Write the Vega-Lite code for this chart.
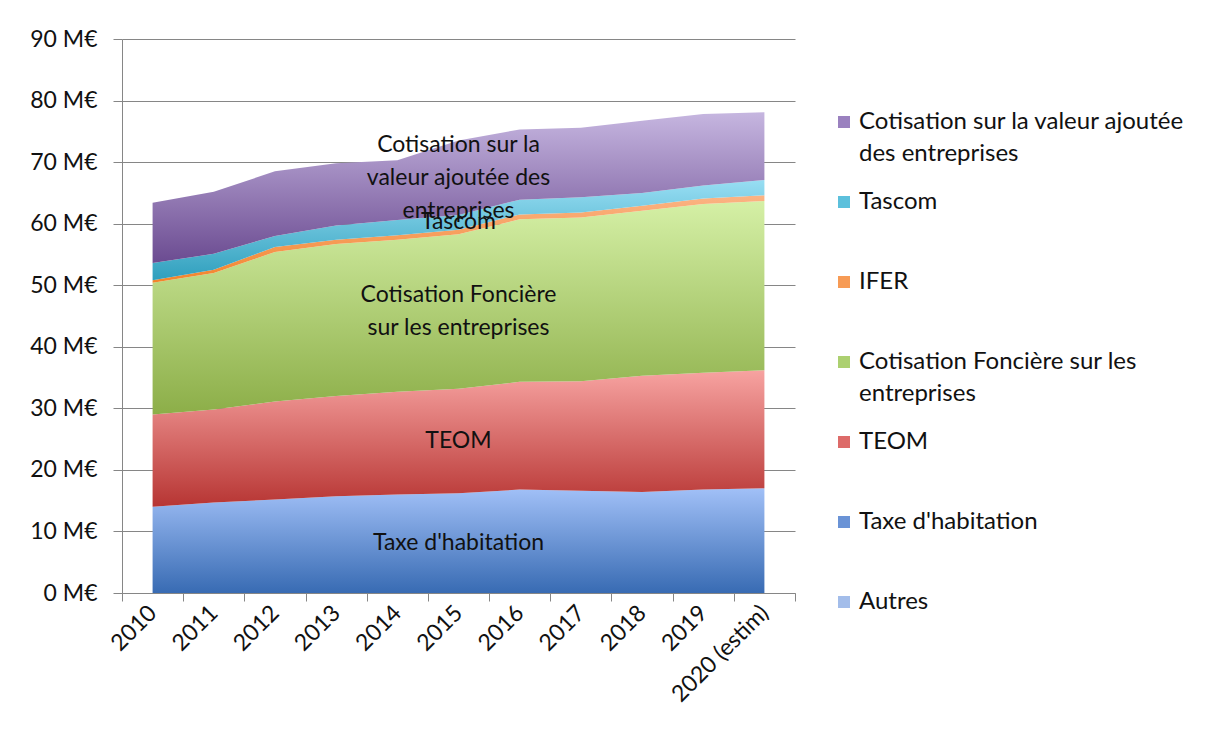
{
  "$schema": "https://vega.github.io/schema/vega-lite/v6.json",
  "width": 673,
  "height": 554,
  "autosize": {"type": "none"},
  "padding": {"left": 122, "top": 39, "right": 416, "bottom": 151},
  "background": "white",
  "config": {"font": "Lato", "view": {"stroke": null}},
  "datasets": {
    "taxes": [
      {"year": "2010", "series": "Autres", "value": 0},
      {"year": "2010", "series": "Taxe d'habitation", "value": 14.0},
      {"year": "2010", "series": "TEOM", "value": 15.0},
      {"year": "2010", "series": "Cotisation Foncière sur les entreprises", "value": 21.4},
      {"year": "2010", "series": "IFER", "value": 0.4},
      {"year": "2010", "series": "Tascom", "value": 2.8},
      {"year": "2010", "series": "Cotisation sur la valeur ajoutée des entreprises", "value": 9.8},
      {"year": "2011", "series": "Autres", "value": 0},
      {"year": "2011", "series": "Taxe d'habitation", "value": 14.7},
      {"year": "2011", "series": "TEOM", "value": 15.1},
      {"year": "2011", "series": "Cotisation Foncière sur les entreprises", "value": 22.2},
      {"year": "2011", "series": "IFER", "value": 0.5},
      {"year": "2011", "series": "Tascom", "value": 2.6},
      {"year": "2011", "series": "Cotisation sur la valeur ajoutée des entreprises", "value": 10.1},
      {"year": "2012", "series": "Autres", "value": 0},
      {"year": "2012", "series": "Taxe d'habitation", "value": 15.2},
      {"year": "2012", "series": "TEOM", "value": 15.9},
      {"year": "2012", "series": "Cotisation Foncière sur les entreprises", "value": 24.3},
      {"year": "2012", "series": "IFER", "value": 0.8},
      {"year": "2012", "series": "Tascom", "value": 1.8},
      {"year": "2012", "series": "Cotisation sur la valeur ajoutée des entreprises", "value": 10.5},
      {"year": "2013", "series": "Autres", "value": 0},
      {"year": "2013", "series": "Taxe d'habitation", "value": 15.7},
      {"year": "2013", "series": "TEOM", "value": 16.3},
      {"year": "2013", "series": "Cotisation Foncière sur les entreprises", "value": 24.7},
      {"year": "2013", "series": "IFER", "value": 0.7},
      {"year": "2013", "series": "Tascom", "value": 2.3},
      {"year": "2013", "series": "Cotisation sur la valeur ajoutée des entreprises", "value": 10.1},
      {"year": "2014", "series": "Autres", "value": 0},
      {"year": "2014", "series": "Taxe d'habitation", "value": 16.0},
      {"year": "2014", "series": "TEOM", "value": 16.7},
      {"year": "2014", "series": "Cotisation Foncière sur les entreprises", "value": 24.7},
      {"year": "2014", "series": "IFER", "value": 0.7},
      {"year": "2014", "series": "Tascom", "value": 2.5},
      {"year": "2014", "series": "Cotisation sur la valeur ajoutée des entreprises", "value": 9.7},
      {"year": "2015", "series": "Autres", "value": 0},
      {"year": "2015", "series": "Taxe d'habitation", "value": 16.2},
      {"year": "2015", "series": "TEOM", "value": 17.0},
      {"year": "2015", "series": "Cotisation Foncière sur les entreprises", "value": 25.1},
      {"year": "2015", "series": "IFER", "value": 0.7},
      {"year": "2015", "series": "Tascom", "value": 2.4},
      {"year": "2015", "series": "Cotisation sur la valeur ajoutée des entreprises", "value": 12.1},
      {"year": "2016", "series": "Autres", "value": 0},
      {"year": "2016", "series": "Taxe d'habitation", "value": 16.8},
      {"year": "2016", "series": "TEOM", "value": 17.5},
      {"year": "2016", "series": "Cotisation Foncière sur les entreprises", "value": 26.4},
      {"year": "2016", "series": "IFER", "value": 0.8},
      {"year": "2016", "series": "Tascom", "value": 2.4},
      {"year": "2016", "series": "Cotisation sur la valeur ajoutée des entreprises", "value": 11.4},
      {"year": "2017", "series": "Autres", "value": 0},
      {"year": "2017", "series": "Taxe d'habitation", "value": 16.6},
      {"year": "2017", "series": "TEOM", "value": 17.8},
      {"year": "2017", "series": "Cotisation Foncière sur les entreprises", "value": 26.6},
      {"year": "2017", "series": "IFER", "value": 0.8},
      {"year": "2017", "series": "Tascom", "value": 2.5},
      {"year": "2017", "series": "Cotisation sur la valeur ajoutée des entreprises", "value": 11.3},
      {"year": "2018", "series": "Autres", "value": 0},
      {"year": "2018", "series": "Taxe d'habitation", "value": 16.4},
      {"year": "2018", "series": "TEOM", "value": 18.9},
      {"year": "2018", "series": "Cotisation Foncière sur les entreprises", "value": 26.8},
      {"year": "2018", "series": "IFER", "value": 0.8},
      {"year": "2018", "series": "Tascom", "value": 2.1},
      {"year": "2018", "series": "Cotisation sur la valeur ajoutée des entreprises", "value": 11.7},
      {"year": "2019", "series": "Autres", "value": 0},
      {"year": "2019", "series": "Taxe d'habitation", "value": 16.8},
      {"year": "2019", "series": "TEOM", "value": 19.0},
      {"year": "2019", "series": "Cotisation Foncière sur les entreprises", "value": 27.4},
      {"year": "2019", "series": "IFER", "value": 0.9},
      {"year": "2019", "series": "Tascom", "value": 2.1},
      {"year": "2019", "series": "Cotisation sur la valeur ajoutée des entreprises", "value": 11.6},
      {"year": "2020 (estim)", "series": "Autres", "value": 0},
      {"year": "2020 (estim)", "series": "Taxe d'habitation", "value": 17.0},
      {"year": "2020 (estim)", "series": "TEOM", "value": 19.2},
      {"year": "2020 (estim)", "series": "Cotisation Foncière sur les entreprises", "value": 27.5},
      {"year": "2020 (estim)", "series": "IFER", "value": 0.9},
      {"year": "2020 (estim)", "series": "Tascom", "value": 2.5},
      {"year": "2020 (estim)", "series": "Cotisation sur la valeur ajoutée des entreprises", "value": 11.0}
    ],
    "labels": [
      {"series": "Taxe d'habitation", "label": "Taxe d'habitation"},
      {"series": "TEOM", "label": "TEOM"},
      {"series": "Cotisation Foncière sur les entreprises", "label": "Cotisation Foncière\nsur les entreprises"},
      {"series": "Tascom", "label": "Tascom"},
      {"series": "Cotisation sur la valeur ajoutée des entreprises", "label": "Cotisation sur la\nvaleur ajoutée des\nentreprises"}
    ]
  },
  "data": {"name": "taxes"},
  "transform": [
    {"calculate": "indexof(['Autres', \"Taxe d'habitation\", 'TEOM', 'Cotisation Foncière sur les entreprises', 'IFER', 'Tascom', 'Cotisation sur la valeur ajoutée des entreprises'], datum.series)", "as": "ord"},
    {"stack": "value", "groupby": ["year"], "sort": [{"field": "ord", "order": "ascending"}], "as": ["v0", "v1"]}
  ],
  "encoding": {
    "x": {
      "field": "year",
      "type": "ordinal",
      "scale": {"type": "band", "paddingInner": 0, "paddingOuter": 0},
      "axis": {
        "title": null,
        "grid": false,
        "tickBand": "extent",
        "tickSize": 8,
        "tickColor": "#868686",
        "domainColor": "#868686",
        "labelAngle": -45,
        "labelAlign": "right",
        "labelBaseline": "middle",
        "labelPadding": 8,
        "labelFontSize": 23,
        "labelColor": "#111111"
      }
    },
    "y": {
      "field": "v1",
      "type": "quantitative",
      "scale": {"domain": [0, 90], "nice": false},
      "axis": {
        "title": null,
        "values": [0, 10, 20, 30, 40, 50, 60, 70, 80, 90],
        "labelExpr": "datum.value + ' M€'",
        "gridColor": "#868686",
        "tickColor": "#868686",
        "domainColor": "#868686",
        "tickSize": 9,
        "labelPadding": 16,
        "labelFontSize": 23,
        "labelColor": "#111111"
      }
    }
  },
  "layer": [
    {
      "mark": {"type": "area", "opacity": 0},
      "encoding": {
        "y2": {"field": "v0"},
        "color": {
          "field": "series",
          "type": "nominal",
          "scale": {
            "domain": ["Cotisation sur la valeur ajoutée des entreprises", "Tascom", "IFER", "Cotisation Foncière sur les entreprises", "TEOM", "Taxe d'habitation", "Autres"],
            "range": ["#9a81bf", "#5cc0dc", "#f79b55", "#acd070", "#dd6b69", "#6a93d6", "#a3bdea"]
          },
          "legend": {
            "orient": "none",
            "legendX": 710,
            "legendY": 71,
            "title": null,
            "symbolType": "square",
            "symbolSize": 144,
            "symbolStrokeWidth": 0,
            "symbolOpacity": 1,
            "labelFontSize": 24,
            "labelColor": "#111111",
            "labelLimit": 500,
            "labelOffset": 3,
            "rowPadding": 24,
            "labelExpr": "datum.label == 'Cotisation sur la valeur ajoutée des entreprises' ? ['Cotisation sur la valeur ajoutée', 'des entreprises'] : datum.label == 'Cotisation Foncière sur les entreprises' ? ['Cotisation Foncière sur les', 'entreprises'] : [datum.label, ' ']",
            "encode": {"labels": {"update": {"lineHeight": {"value": 32}}}}
          }
        }
      }
    },
    {
      "transform": [{"filter": "datum.series == \"Taxe d'habitation\""}],
      "mark": {"type": "area", "fill": {"gradient": "linear", "x1": 0, "y1": 0, "x2": 0, "y2": 1, "stops": [{"offset": 0, "color": "#a1c0f7"}, {"offset": 1, "color": "#386bb3"}]}},
      "encoding": {"y2": {"field": "v0"}}
    },
    {
      "transform": [{"filter": "datum.series == 'TEOM'"}],
      "mark": {"type": "area", "fill": {"gradient": "linear", "x1": 0, "y1": 0, "x2": 0, "y2": 1, "stops": [{"offset": 0, "color": "#f7a3a1"}, {"offset": 1, "color": "#b73533"}]}},
      "encoding": {"y2": {"field": "v0"}}
    },
    {
      "transform": [{"filter": "datum.series == 'Cotisation Foncière sur les entreprises'"}],
      "mark": {"type": "area", "fill": {"gradient": "linear", "x1": 0, "y1": 0, "x2": 0, "y2": 1, "stops": [{"offset": 0, "color": "#d5f0a6"}, {"offset": 1, "color": "#8cae48"}]}},
      "encoding": {"y2": {"field": "v0"}}
    },
    {
      "transform": [{"filter": "datum.series == 'IFER'"}],
      "mark": {"type": "area", "fill": {"gradient": "linear", "x1": 0, "y1": 0, "x2": 0, "y2": 1, "stops": [{"offset": 0, "color": "#fbb485"}, {"offset": 1, "color": "#f2842a"}]}},
      "encoding": {"y2": {"field": "v0"}}
    },
    {
      "transform": [{"filter": "datum.series == 'Tascom'"}],
      "mark": {"type": "area", "fill": {"gradient": "linear", "x1": 0, "y1": 0, "x2": 0, "y2": 1, "stops": [{"offset": 0, "color": "#98def3"}, {"offset": 1, "color": "#2f9fbd"}]}},
      "encoding": {"y2": {"field": "v0"}}
    },
    {
      "transform": [{"filter": "datum.series == 'Cotisation sur la valeur ajoutée des entreprises'"}],
      "mark": {"type": "area", "fill": {"gradient": "linear", "x1": 0, "y1": 0, "x2": 0, "y2": 1, "stops": [{"offset": 0, "color": "#c6b6e0"}, {"offset": 1, "color": "#6b4b91"}]}},
      "encoding": {"y2": {"field": "v0"}}
    },
    {
      "transform": [
        {"filter": "datum.year == '2015'"},
        {"filter": "datum.series == \"Taxe d'habitation\" || datum.series == 'TEOM' || datum.series == 'Tascom'"},
        {"lookup": "series", "from": {"data": {"name": "labels"}, "key": "series", "fields": ["label"]}},
        {"calculate": "(datum.v0 + datum.v1) / 2", "as": "mid"}
      ],
      "mark": {"type": "text", "fontSize": 23, "lineBreak": "\n", "lineHeight": 33, "color": "#111111", "baseline": "middle", "align": "center"},
      "encoding": {
        "y": {"field": "mid", "type": "quantitative"},
        "text": {"field": "label", "type": "nominal"}
      }
    },
    {
      "transform": [
        {"filter": "datum.year == '2015'"},
        {"filter": "datum.series == 'Cotisation Foncière sur les entreprises'"},
        {"lookup": "series", "from": {"data": {"name": "labels"}, "key": "series", "fields": ["label"]}},
        {"calculate": "(datum.v0 + datum.v1) / 2", "as": "mid"}
      ],
      "mark": {"type": "text", "fontSize": 23, "lineBreak": "\n", "lineHeight": 33, "dy": -16.5, "color": "#111111", "baseline": "middle", "align": "center"},
      "encoding": {
        "y": {"field": "mid", "type": "quantitative"},
        "text": {"field": "label", "type": "nominal"}
      }
    },
    {
      "transform": [
        {"filter": "datum.year == '2015'"},
        {"filter": "datum.series == 'Cotisation sur la valeur ajoutée des entreprises'"},
        {"lookup": "series", "from": {"data": {"name": "labels"}, "key": "series", "fields": ["label"]}},
        {"calculate": "(datum.v0 + datum.v1) / 2", "as": "mid"}
      ],
      "mark": {"type": "text", "fontSize": 23, "lineBreak": "\n", "lineHeight": 33, "dy": -33, "color": "#111111", "baseline": "middle", "align": "center"},
      "encoding": {
        "y": {"field": "mid", "type": "quantitative"},
        "text": {"field": "label", "type": "nominal"}
      }
    }
  ]
}
